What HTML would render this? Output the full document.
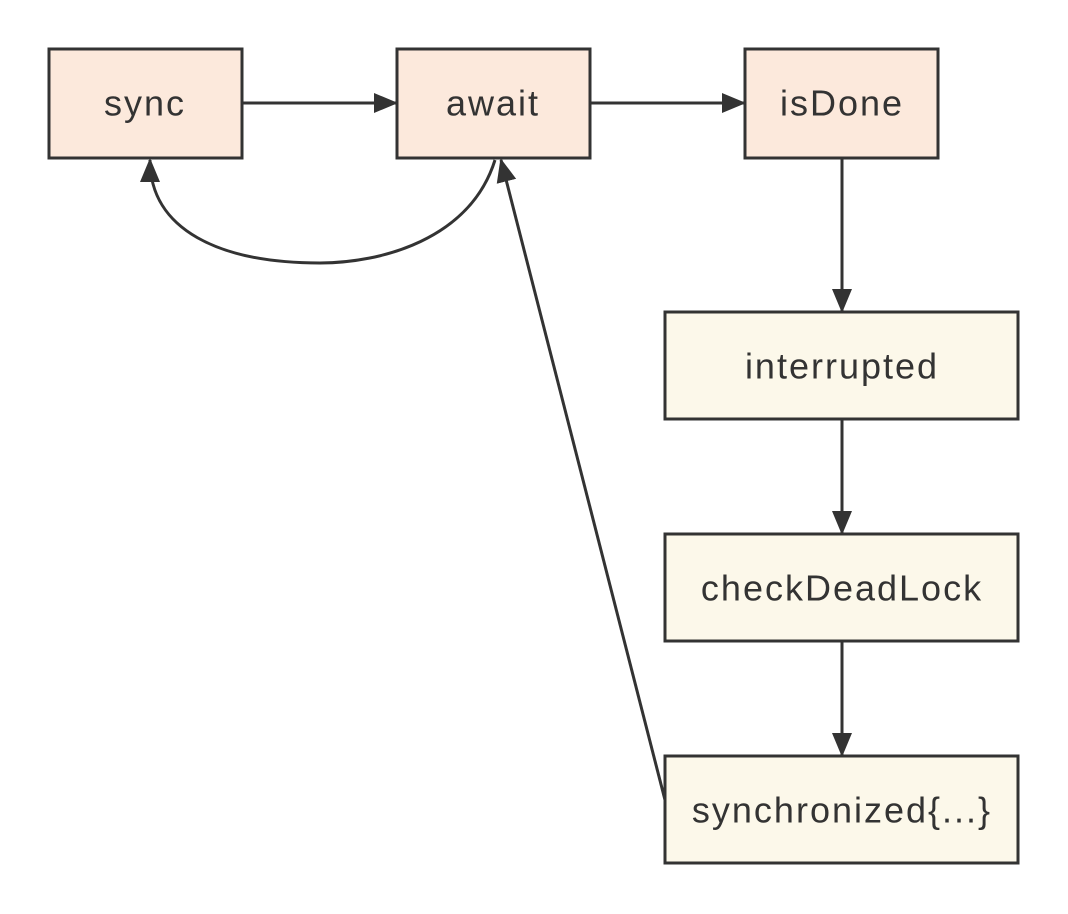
<!DOCTYPE html>
<html><head><meta charset="utf-8"><style>
html,body{margin:0;padding:0;background:#fff;}
svg{display:block;}
text{font-family:"Liberation Sans","DejaVu Sans",sans-serif;font-size:36px;letter-spacing:2px;fill:#333;text-anchor:middle;dominant-baseline:central;}
</style></head><body>
<svg width="1068" height="914" viewBox="0 0 1068 914">
<defs>
<marker id="b" markerWidth="24" markerHeight="24" refX="22" refY="12" orient="auto" markerUnits="userSpaceOnUse" viewBox="0 0 24 24">
<path d="M0,2 L24,12 L0,22 z" fill="#333"/>
</marker>
</defs>
<g stroke="#333" stroke-width="3" fill="none">
<line x1="242" y1="103" x2="396" y2="103" marker-end="url(#b)"/>
<line x1="590" y1="103" x2="744" y2="103" marker-end="url(#b)"/>
<line x1="842" y1="158" x2="842" y2="311" marker-end="url(#b)"/>
<line x1="842" y1="419" x2="842" y2="533" marker-end="url(#b)"/>
<line x1="842" y1="641" x2="842" y2="755" marker-end="url(#b)"/>
<path d="M495,160 C470,240 380,263 320,263 C220,263 150,230 150,160" marker-end="url(#b)"/>
<line x1="665" y1="800" x2="501" y2="160" marker-end="url(#b)"/>
</g>
<g stroke="#333" stroke-width="3">
<rect x="49" y="49" width="193" height="109" fill="#fce9dc"/>
<rect x="397" y="49" width="193" height="109" fill="#fce9dc"/>
<rect x="745" y="49" width="193" height="109" fill="#fce9dc"/>
<rect x="665" y="312" width="353" height="107" fill="#fcf8ea"/>
<rect x="665" y="534" width="353" height="107" fill="#fcf8ea"/>
<rect x="665" y="756" width="353" height="107" fill="#fcf8ea"/>
</g>
<text x="145" y="103">sync</text>
<text x="493" y="103">await</text>
<text x="842" y="103">isDone</text>
<text x="842" y="366">interrupted</text>
<text x="842" y="588">checkDeadLock</text>
<text x="842" y="810">synchronized{...}</text>
</svg>
</body></html>
